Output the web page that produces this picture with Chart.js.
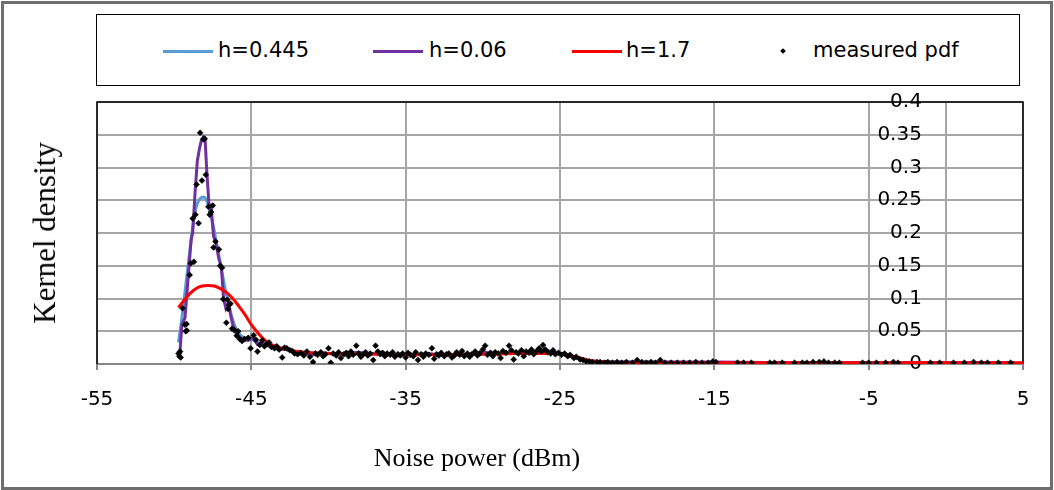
<!DOCTYPE html>
<html>
<head>
<meta charset="utf-8">
<script src="https://cdn.jsdelivr.net/npm/chart.js@4.4.0/dist/chart.umd.min.js"></script>
<style>
  html, body { margin: 0; padding: 0; background: #fff; }
  #wrap { position: relative; width: 1054px; height: 490px; overflow: hidden; }
  #frame { position: absolute; left: 1px; top: 1px; width: 1046px; height: 483px; border: 3px solid #6e6e6e; }
  canvas { position: absolute; left: 0; top: 0; }
  #legend { position: absolute; left: 96px; top: 14px; width: 922px; height: 70px; border: 1.5px solid #000; background: #fff;
            font-family: "DejaVu Sans", sans-serif; font-size: 21px; color: #000; }
  .swatch { position: absolute; top: 35px; height: 3px; width: 50px; }
  .dot { position: absolute; top: 34px; width: 4px; height: 4px; background: #000; transform: rotate(45deg); }
  .label { position: absolute; top: 0; line-height: 70px; white-space: nowrap; }
  #xtitle { position: absolute; left: 0; width: 954px; top: 443px; text-align: center;
            font-family: "Liberation Serif", serif; font-size: 26px; }
  #ytitle { position: absolute; left: 45px; top: 233px; transform: translate(-50%, -50%) rotate(-90deg);
            font-family: "Liberation Serif", serif; font-size: 31px; white-space: nowrap; }
</style>
</head>
<body>
<div id="wrap">
  <canvas id="kdeChart" width="1054" height="490"></canvas>
  <div id="frame"></div>
  <div id="legend">
    <div class="swatch" style="left:66px;background:#5B9BD5"></div><div class="label" style="left:121px">h=0.445</div>
    <div class="swatch" style="left:276px;background:#7030A0"></div><div class="label" style="left:332px">h=0.06</div>
    <div class="swatch" style="left:475px;background:#FF0000"></div><div class="label" style="left:529px">h=1.7</div>
    <div class="dot" style="left:684px"></div><div class="label" style="left:716px">measured pdf</div>
  </div>
  <div id="xtitle">Noise power (dBm)</div>
  <div id="ytitle">Kernel density</div>
</div>
<script>
// axis ticks
const xTicks = [-55, -45, -35, -25, -15, -5, 5];
const yTicks = [0, 0.05, 0.1, 0.15, 0.2, 0.25, 0.3, 0.35, 0.4];

// measured pdf points [noise power dBm, density]
const measuredPdf = [
    [-49.72, 0.016], [-49.66, 0.012], [-49.62, 0.019], [-49.58, 0.010], [-49.45, 0.085], [-49.3, 0.06],
    [-49.25, 0.05], [-49.2, 0.061], [-49.18, 0.051], [-49.0, 0.136], [-48.92, 0.154], [-48.8, 0.222],
    [-48.72, 0.156], [-48.62, 0.228], [-48.55, 0.274], [-48.42, 0.215], [-48.32, 0.353], [-48.2, 0.28],
    [-48.12, 0.343], [-48.02, 0.344], [-47.95, 0.289], [-47.78, 0.24], [-47.7, 0.228], [-47.6, 0.232],
    [-47.5, 0.242], [-47.45, 0.178], [-47.32, 0.187], [-47.1, 0.175], [-47.02, 0.15], [-46.9, 0.147],
    [-46.82, 0.099], [-46.62, 0.063], [-46.55, 0.098], [-46.5, 0.084], [-46.45, 0.09], [-46.35, 0.092],
    [-46.25, 0.054], [-46.1, 0.052], [-45.95, 0.043], [-45.85, 0.05], [-45.75, 0.038], [-45.6, 0.035],
    [-45.45, 0.038], [-45.2, 0.04], [-45.05, 0.024], [-44.85, 0.044], [-44.7, 0.037], [-44.6, 0.019],
    [-44.45, 0.029], [-44.3, 0.036], [-44.15, 0.027], [-44.0, 0.03], [-43.85, 0.033], [-43.7, 0.026],
    [-43.5, 0.024], [-43.35, 0.027], [-43.2, 0.022], [-43.0, 0.01], [-42.85, 0.025], [-42.7, 0.024],
    [-42.5, 0.021], [-42.35, 0.02], [-42.2, 0.016], [-42.0, 0.015],
    [-41.8, 0.017], [-41.6, 0.013], [-41.4, 0.019], [-41.2, 0.011], [-41.0, 0.003], [-40.85, 0.016],
    [-40.7, 0.014], [-40.5, 0.018], [-40.35, 0.012], [-40.2, 0.015], [-40.0, 0.024], [-39.85, 0.002],
    [-39.7, 0.016], [-39.5, 0.013], [-39.35, 0.018], [-39.2, 0.009], [-39.0, 0.015], [-38.85, 0.017],
    [-38.7, 0.012], [-38.55, 0.019], [-38.4, 0.014], [-38.2, 0.028], [-38.05, 0.016], [-37.9, 0.011],
    [-37.75, 0.015], [-37.6, 0.018], [-37.45, 0.013], [-37.3, 0.016], [-37.1, 0.006], [-36.95, 0.028],
    [-36.8, 0.019], [-36.65, 0.015], [-36.5, 0.017], [-36.35, 0.012], [-36.2, 0.016], [-36.0, 0.014],
    [-35.85, 0.018], [-35.7, 0.011], [-35.5, 0.015], [-35.35, 0.013], [-35.2, 0.016], [-35.0, 0.01],
    [-34.85, 0.017], [-34.7, 0.014], [-34.5, 0.012], [-34.35, 0.018], [-34.2, 0.006], [-34.0, 0.015],
    [-33.85, 0.011], [-33.7, 0.016], [-33.5, 0.014], [-33.3, 0.024], [-33.15, 0.008], [-33.0, 0.015],
    [-32.85, 0.013], [-32.7, 0.017], [-32.5, 0.012], [-32.35, 0.015], [-32.2, 0.016], [-32.0, 0.01],
    [-31.85, 0.013], [-31.7, 0.018], [-31.5, 0.014], [-31.35, 0.02], [-31.2, 0.012], [-31.0, 0.016],
    [-30.85, 0.011], [-30.7, 0.015], [-30.5, 0.019], [-30.35, 0.013], [-30.2, 0.016], [-30.0, 0.022],
    [-29.85, 0.028], [-29.7, 0.014], [-29.5, 0.017], [-29.35, 0.012], [-29.2, 0.018], [-29.0, 0.016],
    [-28.85, 0.009], [-28.7, 0.02], [-28.5, 0.017], [-28.3, 0.028], [-28.15, 0.021], [-28.0, 0.007],
    [-27.85, 0.018], [-27.7, 0.016], [-27.5, 0.021], [-27.35, 0.012], [-27.2, 0.019], [-27.0, 0.017],
    [-26.85, 0.022], [-26.7, 0.015], [-26.5, 0.02], [-26.35, 0.024], [-26.2, 0.019], [-26.1, 0.029],
    [-25.95, 0.022], [-25.8, 0.018], [-25.6, 0.016], [-25.45, 0.021], [-25.3, 0.015], [-25.1, 0.017],
    [-24.9, 0.014], [-24.7, 0.016], [-24.5, 0.012], [-24.35, 0.014], [-24.1, 0.009], [-23.95, 0.011],
    [-23.7, 0.007], [-23.5, 0.006], [-23.3, 0.004], [-23.1, 0.004], [-22.9, 0.003], [-22.6, 0.003],
    [-22.4, 0.003], [-22.1, 0.002], [-21.9, 0.003], [-21.6, 0.002], [-21.3, 0.003], [-21.0, 0.002],
    [-20.7, 0.003], [-20.3, 0.002], [-20.0, 0.006], [-19.7, 0.003], [-19.4, 0.002], [-19.1, 0.003],
    [-18.8, 0.002], [-18.5, 0.006], [-18.2, 0.002], [-17.8, 0.002], [-17.4, 0.002], [-17.0, 0.002],
    [-16.6, 0.002], [-16.2, 0.003], [-15.8, 0.002], [-15.4, 0.002], [-15.1, 0.004], [-14.9, 0.003],
    [-13.5, 0.002], [-13.1, 0.002], [-12.6, 0.002], [-11.4, 0.002], [-11.1, 0.002], [-10.6, 0.002],
    [-9.8, 0.002], [-9.3, 0.002], [-9.0, 0.002], [-8.6, 0.003], [-8.2, 0.003], [-7.9, 0.004],
    [-7.6, 0.002], [-7.2, 0.002], [-6.9, 0.002], [-5.4, 0.002], [-5.0, 0.002], [-4.5, 0.002],
    [-3.9, 0.002], [-3.4, 0.003], [-3.1, 0.002], [-1.0, 0.002], [-0.4, 0.002], [0.5, 0.002],
    [1.2, 0.002], [1.8, 0.003], [2.3, 0.002], [2.7, 0.002], [3.4, 0.002], [4.2, 0.002]
];

// kernel estimate, h = 0.06
const kdeH006 = [
    [-49.65, 0.01], [-49.5, 0.06], [-49.3, 0.07], [-49.1, 0.13], [-48.9, 0.19], [-48.8, 0.2],
    [-48.65, 0.26], [-48.5, 0.31], [-48.35, 0.33], [-48.25, 0.34], [-48.1, 0.347], [-48.0, 0.345],
    [-47.9, 0.3], [-47.75, 0.245], [-47.6, 0.238], [-47.45, 0.195], [-47.3, 0.185], [-47.1, 0.16],
    [-46.95, 0.15], [-46.8, 0.1], [-46.65, 0.085], [-46.5, 0.093], [-46.3, 0.07], [-46.1, 0.05],
    [-45.9, 0.045], [-45.7, 0.04], [-45.5, 0.037], [-45.2, 0.036], [-44.9, 0.04], [-44.6, 0.03],
    [-44.3, 0.033], [-44.0, 0.029], [-43.6, 0.026], [-43.2, 0.022], [-42.8, 0.023], [-42.4, 0.02],
    [-42.0, 0.017], [-41.5, 0.016], [-41.0, 0.014], [-40.5, 0.017], [-40.0, 0.016], [-39.5, 0.015],
    [-39.0, 0.016], [-38.5, 0.017], [-38.0, 0.018], [-37.5, 0.015], [-37.0, 0.016], [-36.5, 0.017],
    [-36.0, 0.015], [-35.5, 0.014], [-35.0, 0.015], [-34.5, 0.014], [-34.0, 0.015], [-33.5, 0.016],
    [-33.0, 0.014], [-32.5, 0.014], [-32.0, 0.013], [-31.5, 0.016], [-31.0, 0.015], [-30.5, 0.016],
    [-30.0, 0.019], [-29.5, 0.016], [-29.0, 0.016], [-28.5, 0.018], [-28.0, 0.017], [-27.5, 0.018],
    [-27.0, 0.018], [-26.5, 0.02], [-26.0, 0.022], [-25.5, 0.018], [-25.0, 0.016], [-24.5, 0.013],
    [-24.0, 0.01], [-23.5, 0.006], [-23.0, 0.004], [-22.0, 0.003], [-20.0, 0.003], [-18.0, 0.003],
    [-15.0, 0.003], [-10.0, 0.002], [-5.0, 0.002], [0.0, 0.002], [4.5, 0.002]
];

// kernel estimate, h = 0.445
const kdeH0445 = [
    [-49.72, 0.033], [-49.5, 0.07], [-49.3, 0.11], [-49.1, 0.15], [-48.9, 0.19], [-48.7, 0.225],
    [-48.5, 0.245], [-48.3, 0.253], [-48.1, 0.255], [-47.9, 0.25], [-47.7, 0.235], [-47.5, 0.215],
    [-47.3, 0.19], [-47.1, 0.165], [-46.9, 0.14], [-46.7, 0.115], [-46.5, 0.095], [-46.3, 0.075],
    [-46.1, 0.06], [-45.9, 0.05], [-45.6, 0.042], [-45.3, 0.04], [-45.0, 0.038], [-44.6, 0.033],
    [-44.2, 0.031], [-43.8, 0.028], [-43.4, 0.025], [-43.0, 0.023], [-42.5, 0.021], [-42.0, 0.018],
    [-41.0, 0.016], [-40.0, 0.016], [-39.0, 0.016], [-38.0, 0.016], [-37.0, 0.016], [-36.0, 0.015],
    [-35.0, 0.015], [-34.0, 0.015], [-33.0, 0.015], [-32.0, 0.014], [-31.0, 0.015], [-30.0, 0.016],
    [-29.0, 0.016], [-28.0, 0.017], [-27.0, 0.018], [-26.0, 0.019], [-25.0, 0.016], [-24.0, 0.01],
    [-23.0, 0.005], [-22.0, 0.003], [-20.0, 0.003], [-15.0, 0.002], [-10.0, 0.002], [-5.0, 0.002],
    [0.0, 0.002], [4.5, 0.002]
];

// kernel estimate, h = 1.7
const kdeH17 = [
    [-49.72, 0.086], [-49.4, 0.096], [-49.0, 0.107], [-48.6, 0.115], [-48.2, 0.119], [-47.8, 0.12],
    [-47.4, 0.119], [-47.0, 0.115], [-46.6, 0.109], [-46.2, 0.1], [-45.8, 0.088], [-45.4, 0.075],
    [-45.0, 0.06], [-44.6, 0.048], [-44.2, 0.038], [-43.8, 0.031], [-43.4, 0.027], [-43.0, 0.024],
    [-42.5, 0.021], [-42.0, 0.019], [-41.5, 0.018], [-41.0, 0.017], [-40.0, 0.016], [-39.0, 0.016],
    [-38.0, 0.015], [-37.0, 0.015], [-36.0, 0.014], [-35.0, 0.014], [-34.0, 0.014], [-33.0, 0.014],
    [-32.0, 0.014], [-31.0, 0.014], [-30.0, 0.015], [-29.0, 0.015], [-28.0, 0.016], [-27.0, 0.016],
    [-26.0, 0.016], [-25.2, 0.016], [-24.5, 0.014], [-24.0, 0.011], [-23.5, 0.008], [-23.0, 0.005],
    [-22.5, 0.004], [-22.0, 0.003], [-21.0, 0.002], [-20.0, 0.002], [-15.0, 0.002], [-10.0, 0.002],
    [-5.0, 0.002], [0.0, 0.002], [5.0, 0.002]
];

const toXY = arr => arr.map(p => ({ x: p[0], y: p[1] }));

// black frame round the plot area (bottom edge is the x axis line)
const plotFrame = {
    id: 'plotFrame',
    beforeDatasetsDraw(chart) {
        const a = chart.chartArea;
        const c = chart.ctx;
        c.save();
        c.strokeStyle = '#000';
        c.lineWidth = 1.5;
        c.beginPath();
        c.moveTo(a.left, a.bottom);
        c.lineTo(a.left, a.top);
        c.lineTo(a.right, a.top);
        c.lineTo(a.right, a.bottom);
        c.stroke();
        c.restore();
    }
};

const tickFont = { family: '"DejaVu Sans", sans-serif', size: 20 };

new Chart(document.getElementById('kdeChart'), {
    type: 'scatter',
    data: {
        datasets: [{
            label: 'measured pdf',
            data: toXY(measuredPdf),
            showLine: false,
            pointStyle: 'rectRot',
            pointRadius: 3,
            pointBackgroundColor: '#000',
            pointBorderColor: '#000',
            pointBorderWidth: 0.5
        }, {
            label: 'h=1.7',
            data: toXY(kdeH17),
            showLine: true,
            borderColor: '#FF0000',
            borderWidth: 3,
            pointRadius: 0,
            cubicInterpolationMode: 'monotone'
        }, {
            label: 'h=0.06',
            data: toXY(kdeH006),
            showLine: true,
            borderColor: '#7030A0',
            borderWidth: 3,
            pointRadius: 0
        }, {
            label: 'h=0.445',
            data: toXY(kdeH0445),
            showLine: true,
            borderColor: '#5B9BD5',
            borderWidth: 3,
            pointRadius: 0,
            cubicInterpolationMode: 'monotone'
        }]
    },
    options: {
        responsive: false,
        animation: false,
        layout: { padding: { left: 97, right: 31, top: 102, bottom: 0 } },
        plugins: {
            legend: { display: false },
            tooltip: { enabled: false }
        },
        scales: {
            x: {
                type: 'linear',
                position: 'bottom',
                min: -55,
                max: 5,
                afterBuildTicks: s => { s.ticks = xTicks.map(v => ({ value: v })); },
                afterFit: s => { s.height = 126; },
                grid: { color: '#a6a6a6', lineWidth: 2, tickLength: 6, tickColor: '#868686' },
                border: { color: '#868686', width: 2 },
                ticks: { color: '#000', font: tickFont, padding: 18, maxRotation: 0 }
            },
            // value axis crossing at x = 0: line and grid only
            y: {
                type: 'linear',
                position: { x: 0 },
                min: 0,
                max: 0.4,
                afterBuildTicks: s => { s.ticks = yTicks.map(v => ({ value: v })); },
                grid: { color: '#a6a6a6', lineWidth: 2, drawTicks: false },
                border: { color: '#a6a6a6', width: 2 },
                ticks: { display: false }
            },
            // same value axis, labels only, set a little left of x = 0
            yLabels: {
                axis: 'y',
                type: 'linear',
                position: { x: -1.55 },
                min: 0,
                max: 0.4,
                afterBuildTicks: s => { s.ticks = yTicks.map(v => ({ value: v })); },
                grid: { display: false, drawTicks: false },
                border: { display: false },
                ticks: {
                    color: '#000',
                    font: tickFont,
                    padding: 0,
                    callback: v => String(parseFloat(v.toFixed(2)))
                }
            }
        }
    },
    plugins: [plotFrame]
});
</script>
</body>
</html>
